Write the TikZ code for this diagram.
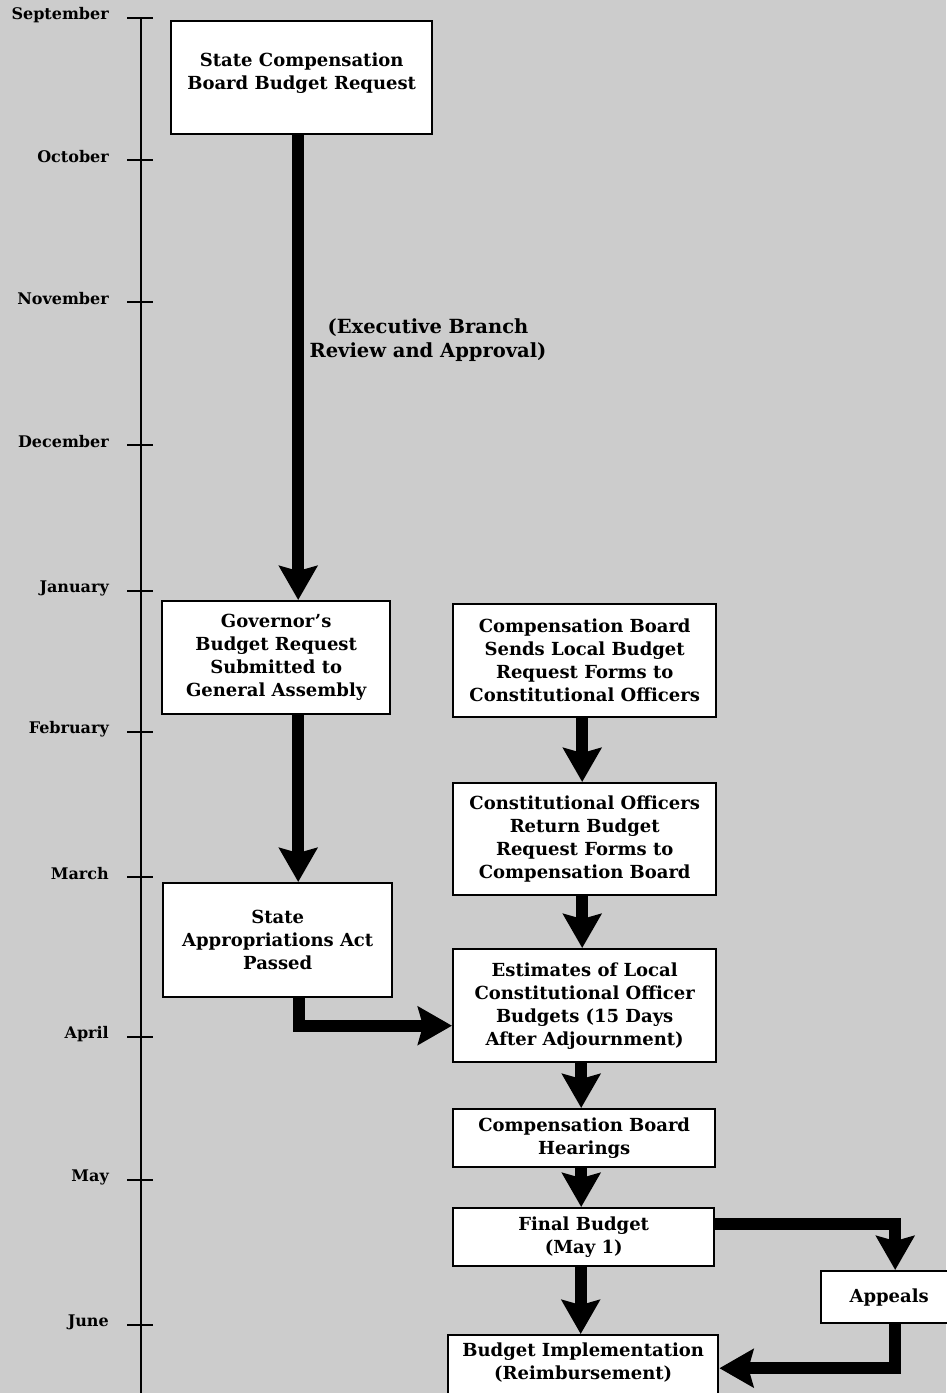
\documentclass[tikz,border=0pt]{standalone}
\usepackage{fontspec}
\setmainfont{DejaVu Serif}
\usetikzlibrary{arrows.meta}
\definecolor{bggray}{gray}{0.8}
\tikzset{
  box/.style={draw, line width=2.4pt, fill=white, align=center, inner sep=0pt, anchor=north west,
    font=\fontsize{18}{23}\selectfont\bfseries},
  month/.style={anchor=east, inner sep=0pt, font=\fontsize{16}{18}\selectfont\bfseries},
  arr/.style={line width=12pt, -{Stealth[width=38pt,length=34pt,inset=5pt]}},
  tickline/.style={line width=1.4pt},
}
\begin{document}
\begin{tikzpicture}[x=1pt,y=-1pt]
\useasboundingbox (0,0) rectangle (946,1393);
\fill[bggray] (0,0) rectangle (946,1393);

% timeline
\coordinate (axtop) at (141,18);
\coordinate (axbot) at (141,1393);
\draw[line width=1.6pt] (axtop) -- (axbot);
\foreach \nm/\lab/\yy in {sep/September/18, oct/October/160, nov/November/302, dec/December/445,
  jan/January/591, feb/February/732, mar/March/877, apr/April/1037, may/May/1180, jun/June/1325}{
  \coordinate (t\nm a) at (127,\yy);
  \coordinate (t\nm b) at (153,\yy);
  \draw[tickline] (t\nm a) -- (t\nm b);
  \node[month] (m\nm) at (109,\yy-3) {\lab};
}

% boxes
\node[box, minimum width=261pt, minimum height=113pt] (scb) at (170,20)
  {State Compensation\\Board Budget Request\rule[-14pt]{0pt}{1pt}};
\node[box, minimum width=228pt, minimum height=113pt] (gov) at (161,600)
  {Governor's\\Budget Request\\Submitted to\\General Assembly};
\node[box, minimum width=263pt, minimum height=113pt] (sends) at (452,603)
  {Compensation Board\\Sends Local Budget\\Request Forms to\\Constitutional Officers};
\node[box, minimum width=263pt, minimum height=112pt] (ret) at (452,782)
  {Constitutional Officers\\Return Budget\\Request Forms to\\Compensation Board};
\node[box, minimum width=229pt, minimum height=114pt] (act) at (162,882)
  {State\\Appropriations Act\\Passed};
\node[box, minimum width=263pt, minimum height=113pt] (est) at (452,948)
  {Estimates of Local\\Constitutional Officer\\Budgets (15 Days\\After Adjournment)};
\node[box, minimum width=262pt, minimum height=58pt] (hear) at (452,1108)
  {Compensation Board\\Hearings};
\node[box, minimum width=261pt, minimum height=58pt] (fin) at (452,1207)
  {Final Budget\\(May 1)};
\node[box, minimum width=140pt, minimum height=52pt] (app) at (820,1270)
  {\hspace*{-4pt}Appeals};
\node[box, minimum width=270pt, minimum height=64pt] (impl) at (447,1334)
  {Budget Implementation\\(Reimbursement)\rule[-13pt]{0pt}{1pt}};

% label
\node[align=center, inner sep=0pt, font=\fontsize{19.5}{24}\selectfont\bfseries] (exec) at (428,340)
  {(Executive Branch\\Review and Approval)};

% arrows
\draw[arr] ([xshift=-3.5pt]scb.south) -- ([xshift=-3.5pt]scb.south |- gov.north);
\draw[arr] ([xshift=22pt]gov.south) -- ([xshift=22pt]gov.south |- act.north);
\draw[arr] ([xshift=-2.5pt]sends.south) -- ([xshift=-2.5pt]sends.south |- ret.north);
\draw[arr] ([xshift=-2.5pt]ret.south) -- ([xshift=-2.5pt]ret.south |- est.north);
\draw[arr] ([xshift=-3.5pt]est.south) -- ([xshift=-3.5pt]est.south |- hear.north);
\draw[arr] ([xshift=-3pt]hear.south) -- ([xshift=-3pt]hear.south |- fin.north);
\draw[arr] ([xshift=-3pt]fin.south) -- ([xshift=-3pt]fin.south |- impl.north);
\draw[arr] ([xshift=21.5pt]act.south) |- ([yshift=-20pt]est.west);
\draw[arr] ([yshift=13pt]fin.east) -| ([xshift=4pt]app.north);
\draw[arr] ([xshift=4pt]app.south) |- ([yshift=-1pt]impl.east);
\end{tikzpicture}
\end{document}
